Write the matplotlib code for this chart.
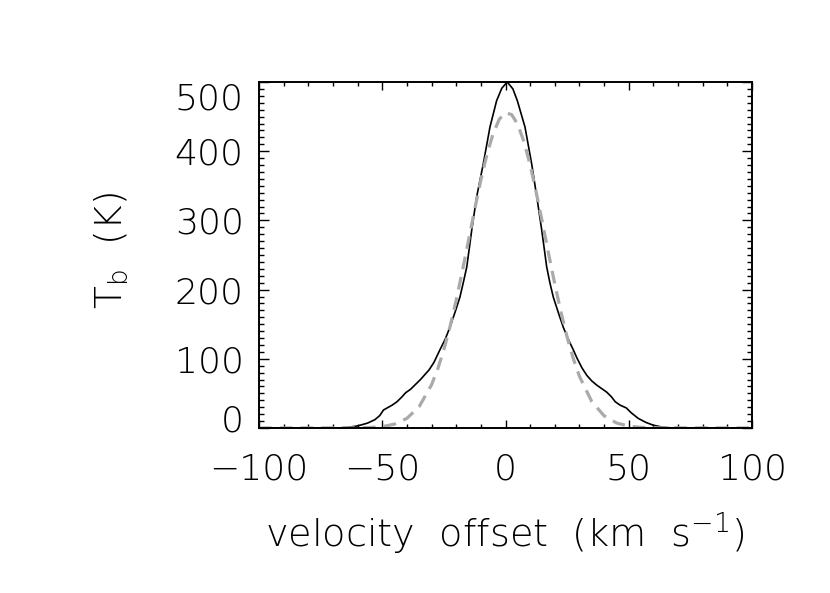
import matplotlib
matplotlib.use("Agg")
import matplotlib.pyplot as plt
import matplotlib.transforms as mtransforms
from matplotlib.ticker import MultipleLocator

plt.rcParams['font.family'] = ['DejaVu Sans']
plt.rcParams['font.weight'] = 'light'
plt.rcParams['mathtext.default'] = 'regular'

# observed line profile (black solid)
vel_obs = [-100, -68, -64, -60, -56, -53, -51, -49.5, -48, -46, -44, -42, -40.5,
           -38.5, -36.5, -34.5, -33, -31, -29, -26.6, -24.5, -22.5, -20.5, -18.5,
           -17, -15.7, -13.7, -11.7, -9, -6.3, -3.6, -1.5, 0.7, 3, 4.8, 7.9, 10.6,
           12.7, 14.7, 16.7, 18, 19.4, 21.5, 23.4, 25.5, 27.5, 29, 31, 33, 35, 37,
           39, 41, 43, 44.5, 46.5, 49, 51, 53.8, 57, 60, 64, 68, 100]
tb_obs = [0, 0, 1, 3, 7, 12, 18, 26, 29, 33, 38, 45, 51,
          56, 63, 70, 76, 84, 95, 113, 128, 146, 167, 189,
          212, 233, 286, 334, 382, 435, 473, 491, 500, 490, 473, 435, 382,
          334, 286, 233, 210, 189, 166, 146, 128, 113, 101, 87, 76, 68, 62,
          57, 52, 45, 38, 33, 29, 22, 14, 8, 4, 1, 0, 0]

# gaussian fit (grey dashed)
vel_fit = [-100, -60, -55, -50, -45, -40, -35, -30, -27.5, -25, -22.5, -20, -17.5,
           -15, -12.5, -10, -7.5, -5, -2.5, 0, 2.5, 5, 7.5, 10, 12.5, 15, 17.5,
           20, 22.5, 25, 27.5, 30, 35, 40, 45, 50, 55, 60, 100]
tb_fit = [0, 0.2, 0.7, 2.0, 5.6, 13.9, 31.0, 62.5, 85.3, 113.3, 146.6, 184.8, 226.9,
          271.2, 315.9, 358.3, 395.7, 425.8, 446.3, 455.5, 452.9, 438.5, 413.6, 380.0,
          340.0, 296.3, 251.5, 208.0, 167.4, 131.3, 100.3, 74.6, 38.2, 17.6, 7.3,
          2.7, 0.9, 0.3, 0]

xticks = [-100, -50, 0, 50, 100]
yticks = [0, 100, 200, 300, 400, 500]

fig = plt.figure(figsize=(8.3, 5.93), dpi=100)
ax = fig.add_axes([259 / 830, 1 - 428 / 593, 493 / 830, 346 / 593])

ax.plot(vel_obs, tb_obs, color='black', lw=1.2)
ax.plot(vel_fit, tb_fit, color='#aaaaaa', lw=2.3, dashes=(4, 2.5))

ax.set_xlim(-100, 100)
ax.set_ylim(0, 500)
ax.set_xticks(xticks)
ax.set_yticks(yticks)
ax.xaxis.set_minor_locator(MultipleLocator(10))
ax.yaxis.set_minor_locator(MultipleLocator(10))

ax.tick_params(which='both', direction='in', top=True, right=True, width=1.0)
ax.tick_params(axis='x', which='major', length=5.5, pad=17.5, labelsize=26)
ax.tick_params(axis='x', which='minor', length=2.8)
ax.tick_params(axis='y', which='major', length=7.5, pad=11, labelsize=26)
ax.tick_params(axis='y', which='minor', length=3.8)
for s in ax.spines.values():
    s.set_linewidth(1.4)

# end labels sit a little inside the axis range
fig.canvas.draw()
ylabs = ax.get_yticklabels()
ylabs[0].set_transform(ylabs[0].get_transform() +
                       mtransforms.ScaledTranslation(0, 10 / 100, fig.dpi_scale_trans))
ylabs[-1].set_transform(ylabs[-1].get_transform() +
                        mtransforms.ScaledTranslation(0, -14 / 100, fig.dpi_scale_trans))

ax.text(0.499, -0.345, r'velocity  offset  (km  s$^{-1}$)', transform=ax.transAxes,
        ha='center', va='baseline', fontsize=27.5)
ax.text(-0.278, 0.514, r'T$_{b}$  (K)', transform=ax.transAxes, rotation=90,
        rotation_mode='anchor', ha='center', va='baseline', fontsize=27)

fig.savefig('out.png', dpi=100)
